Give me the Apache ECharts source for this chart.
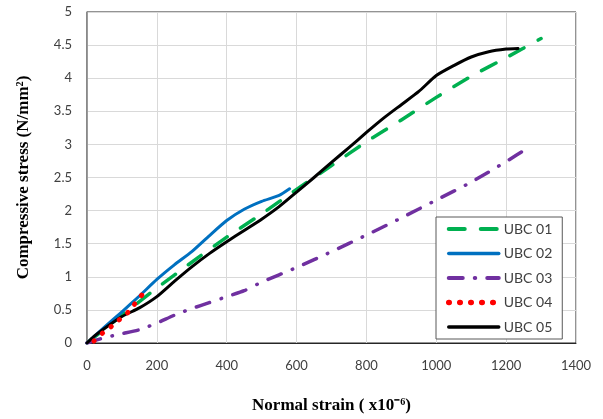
<!DOCTYPE html>
<html>
<head>
<meta charset="utf-8">
<script src="https://cdn.jsdelivr.net/npm/echarts@6/dist/echarts.min.js"></script>
<style>
  html, body { margin: 0; padding: 0; background: #fff; }
  #myChart { width: 603px; height: 419px; }
</style>
</head>
<body>
<div id="myChart"></div>
<script>
// strain (x10^-6) and stress (N/mm2)
var ubc01Strain = [0, 100, 200, 300, 400, 500, 600, 700, 800, 900, 1000, 1100, 1200, 1300];
var ubc01Stress = [0, 0.42, 0.83, 1.22, 1.6, 1.95, 2.32, 2.68, 3.04, 3.37, 3.71, 4.03, 4.31, 4.6];

var ubc02Strain = [0, 50, 100, 150, 200, 250, 300, 350, 400, 450, 500, 550, 580];
var ubc02Stress = [0, 0.24, 0.47, 0.71, 0.96, 1.18, 1.38, 1.62, 1.85, 2.02, 2.14, 2.23, 2.33];

var ubc03Strain = [0, 50, 100, 150, 200, 250, 300, 350, 400, 450, 500, 600, 700, 800, 900, 1000, 1100, 1200, 1260];
var ubc03Stress = [0, 0.08, 0.14, 0.2, 0.3, 0.42, 0.52, 0.61, 0.7, 0.79, 0.92, 1.14, 1.38, 1.63, 1.89, 2.16, 2.43, 2.74, 2.94];

var ubc04Strain = [20, 45, 70, 90, 115, 135, 148, 160];
var ubc04Stress = [0.03, 0.15, 0.25, 0.34, 0.45, 0.58, 0.66, 0.75];

var ubc05Strain = [0, 20, 50, 100, 150, 200, 250, 300, 350, 400, 450, 500, 550, 600, 650, 700, 750, 800, 850, 900, 950, 1000, 1050, 1100, 1150, 1200, 1234];
var ubc05Stress = [0, 0.1, 0.22, 0.4, 0.53, 0.7, 0.93, 1.15, 1.35, 1.53, 1.7, 1.87, 2.06, 2.28, 2.5, 2.73, 2.95, 3.18, 3.4, 3.6, 3.8, 4.04, 4.19, 4.32, 4.4, 4.44, 4.45];

var legendNames = ['UBC 01', 'UBC 02', 'UBC 03', 'UBC 04', 'UBC 05'];
var xTicks = [0, 200, 400, 600, 800, 1000, 1200, 1400];
var yTicks = [0, 0.5, 1, 1.5, 2, 2.5, 3, 3.5, 4, 4.5, 5];

function pairs(xs, ys) {
  return xs.map(function (x, i) { return [x, ys[i]]; });
}

var styles = {
  'UBC 01': { color: '#00B050', width: 3.5, type: [16, 16] },
  'UBC 02': { color: '#0070C0', width: 3, type: 'solid' },
  'UBC 03': { color: '#7030A0', width: 3.5, type: [14, 12, 0.5, 12] },
  'UBC 04': { color: '#FF0000', width: 5, type: [0.5, 10.5] },
  'UBC 05': { color: '#000000', width: 3, type: 'solid' }
};

// red dotted drawn last so it sits on top of the black line, like the original
var series = [
  { name: 'UBC 01', data: pairs(ubc01Strain, ubc01Stress) },
  { name: 'UBC 02', data: pairs(ubc02Strain, ubc02Stress) },
  { name: 'UBC 03', data: pairs(ubc03Strain, ubc03Stress) },
  { name: 'UBC 05', data: pairs(ubc05Strain, ubc05Stress) },
  { name: 'UBC 04', data: pairs(ubc04Strain, ubc04Stress) }
].map(function (s) {
  var st = styles[s.name];
  return {
    name: s.name,
    type: 'line',
    data: s.data,
    symbol: 'none',
    smooth: 0.2,
    color: st.color,
    lineStyle: { color: st.color, width: st.width, type: st.type, cap: 'round', join: 'round' }
  };
});

var tickFont = { fontFamily: 'Lato', fontSize: 13, color: '#404040' };

var option = {
  animation: false,
  backgroundColor: '#fff',
  grid: { left: 87, right: 27, top: 12, bottom: 71, show: true, borderColor: '#262626', borderWidth: 1 },
  legend: {
    orient: 'vertical',
    left: 436, top: 217,
    width: 127,
    padding: [5, 10, 5, 10],
    itemGap: 10.5,
    itemWidth: 50,
    itemHeight: 14,
    itemStyle: { opacity: 0 },
    backgroundColor: '#fff',
    borderColor: '#595959',
    borderWidth: 1,
    textStyle: { fontFamily: 'Lato', fontSize: 14, color: '#404040' },
    data: legendNames.map(function (n) {
      var st = styles[n];
      return { name: n, lineStyle: { color: st.color, width: st.width + 0.5, type: st.type, cap: 'round' } };
    })
  },
  xAxis: {
    type: 'value',
    min: xTicks[0], max: xTicks[xTicks.length - 1], interval: 200,
    name: 'Normal strain ( x10\u207B\u2076)',
    nameLocation: 'middle', nameGap: 54,
    nameTextStyle: { fontFamily: 'Liberation Serif', fontWeight: 'bold', fontSize: 17, color: '#000' },
    axisLine: { lineStyle: { color: '#262626', width: 1 } },
    axisTick: { show: false },
    axisLabel: Object.assign({ margin: 16, formatter: function (v) { return String(v); } }, tickFont),
    splitLine: { lineStyle: { color: '#D9D9D9', width: 1 } }
  },
  yAxis: {
    type: 'value',
    min: yTicks[0], max: yTicks[yTicks.length - 1], interval: 0.5,
    name: 'Compressive stress (N/mm\u00B2)',
    nameLocation: 'middle', nameGap: 55,
    nameTextStyle: { fontFamily: 'Liberation Serif', fontWeight: 'bold', fontSize: 17, color: '#000' },
    axisLine: { show: true, lineStyle: { color: '#868686', width: 1.5 } },
    axisTick: { show: false },
    axisLabel: Object.assign({ margin: 15 }, tickFont),
    splitLine: { lineStyle: { color: '#D9D9D9', width: 1 } }
  },
  series: series
};

var myChart = echarts.init(document.getElementById('myChart'));
myChart.setOption(option);
</script>
</body>
</html>
